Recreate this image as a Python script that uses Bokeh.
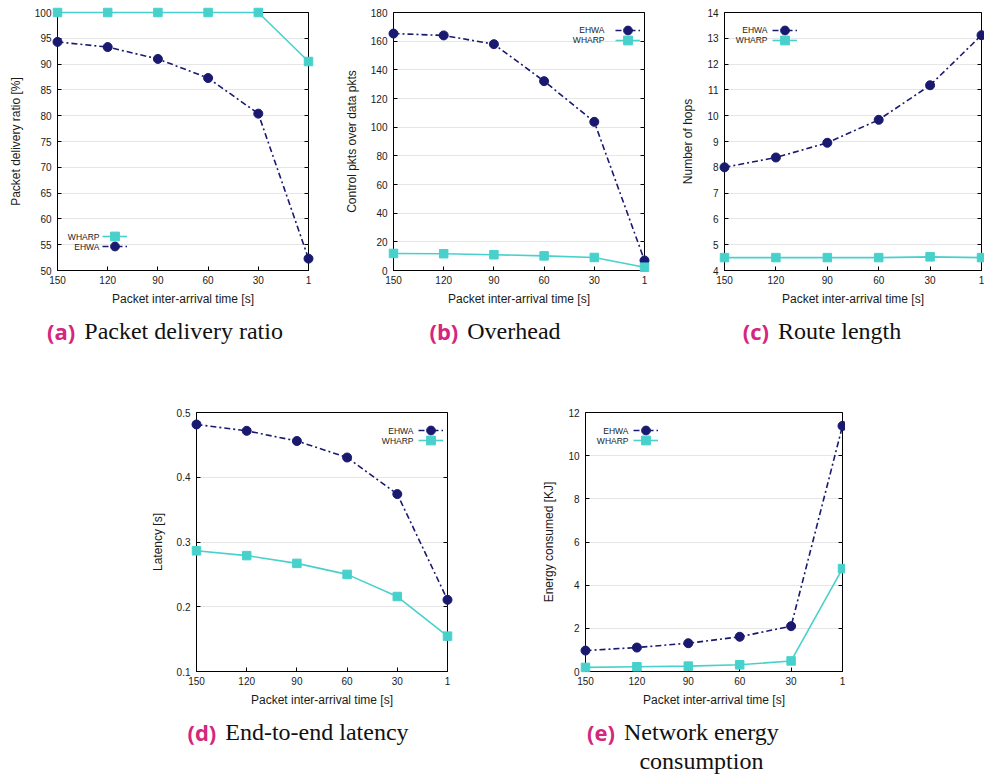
from bokeh.plotting import figure
from bokeh.models import Range1d, FixedTicker, LinearAxis, Legend, LegendItem, Label, Div, Spacer
from bokeh.layouts import row, column
from bokeh.embed import file_html
from bokeh.resources import INLINE

# Packet inter-arrival times [s] (x-axis categories, left to right)
intervals = [150, 120, 90, 60, 30, 1]

# (a) Packet delivery ratio [%]
pdr_ehwa = [94.3, 93.3, 91.0, 87.3, 80.4, 52.3]
pdr_wharp = [100.0, 100.0, 100.0, 100.0, 100.0, 90.5]

# (b) Control packets over data packets
ovh_ehwa = [165.3, 164.0, 157.9, 132.1, 103.7, 7.0]
ovh_wharp = [11.9, 11.7, 11.0, 10.2, 9.1, 2.3]

# (c) Route length [hops]
hops_ehwa = [8.0, 8.38, 8.95, 9.84, 11.18, 13.12]
hops_wharp = [4.5, 4.5, 4.5, 4.5, 4.53, 4.5]

# (d) End-to-end latency [s]
lat_ehwa = [0.4815, 0.4717, 0.456, 0.4305, 0.374, 0.2107]
lat_wharp = [0.2864, 0.279, 0.267, 0.250, 0.2158, 0.1546]

# (e) Network energy consumed [KJ]
energy_ehwa = [0.97, 1.11, 1.31, 1.61, 2.10, 11.38]
energy_wharp = [0.19, 0.22, 0.25, 0.31, 0.49, 4.77]

# y-axis ticks per panel
pdr_ticks = [50, 55, 60, 65, 70, 75, 80, 85, 90, 95, 100]
ovh_ticks = [0, 20, 40, 60, 80, 100, 120, 140, 160, 180]
hops_ticks = [4, 5, 6, 7, 8, 9, 10, 11, 12, 13, 14]
lat_ticks = [0.1, 0.2, 0.3, 0.4, 0.5]
energy_ticks = [0, 2, 4, 6, 8, 10, 12]

EHWA_COLOR = "#191970"
WHARP_COLOR = "#48d1cc"
PINK = "#d4267e"
SANS = "Liberation Sans"
TEXT = "#1a1a1a"

# legend sample box: markers in legends are drawn at 0.4 * min(width, height)
GLYPH_W = 25
GLYPH_H = 22
ROW_STEP = 10


def make_panel(y_ticks, y_label, ehwa, wharp, order, text_right, sample_x, first_row_y,
               border_left, frame_w, frame_h, border_right):
    xpos = list(range(len(intervals)))
    p = figure(frame_width=frame_w, frame_height=frame_h,
               min_border_left=border_left, min_border_right=border_right,
               min_border_top=12, min_border_bottom=40,
               x_range=Range1d(0, len(intervals) - 1),
               y_range=Range1d(y_ticks[0], y_ticks[-1]),
               output_backend="svg", toolbar_location=None)
    p.background_fill_color = "white"
    p.border_fill_color = "white"
    p.outline_line_color = "black"
    p.outline_line_width = 1

    # bottom axis: categorical inter-arrival labels
    xa = p.xaxis[0]
    xa.ticker = FixedTicker(ticks=xpos)
    xa.major_label_overrides = {i: str(v) for i, v in enumerate(intervals)}
    xa.axis_label = "Packet inter-arrival time [s]"

    ya = p.yaxis[0]
    ya.ticker = FixedTicker(ticks=y_ticks)
    ya.axis_label = y_label

    for ax in (xa, ya):
        ax.axis_line_color = "black"
        ax.major_tick_in = 4
        ax.major_tick_out = 0
        ax.minor_tick_line_color = None
        ax.major_tick_line_color = "black"
        ax.major_label_text_font = SANS
        ax.major_label_text_font_size = "10px"
        ax.major_label_text_color = TEXT
        ax.axis_label_text_font = SANS
        ax.axis_label_text_font_size = "12px"
        ax.axis_label_text_font_style = "normal"
        ax.axis_label_text_color = TEXT
    xa.major_label_standoff = 5
    xa.axis_label_standoff = 5
    ya.major_label_standoff = 6
    ya.axis_label_standoff = 9

    # mirrored tick marks on the right border
    ra = LinearAxis(ticker=FixedTicker(ticks=y_ticks),
                    major_label_overrides={t: "" for t in y_ticks},
                    axis_line_color=None, major_tick_in=4, major_tick_out=0,
                    major_label_standoff=0, minor_tick_line_color=None,
                    major_label_text_color=None, major_label_text_font_size="1px")
    p.add_layout(ra, "right")

    p.xgrid.visible = False
    p.ygrid.ticker = FixedTicker(ticks=y_ticks)
    p.ygrid.grid_line_color = "#e6e6e6"
    p.ygrid.grid_line_width = 1

    l_e = p.line(xpos, ehwa, line_color=EHWA_COLOR, line_width=1.6,
                 line_dash="6 3 2 3", level="annotation")
    s_e = p.scatter(xpos, ehwa, marker="circle", size=9, fill_color=EHWA_COLOR,
                    line_color=EHWA_COLOR, level="annotation")
    l_w = p.line(xpos, wharp, line_color=WHARP_COLOR, line_width=1.6, level="annotation")
    s_w = p.scatter(xpos, wharp, marker="square", size=8.5, fill_color=WHARP_COLOR,
                    line_color=WHARP_COLOR, level="annotation")

    # key: right-aligned name followed by a line/marker sample, one row per series
    series = {"EHWA": [l_e, s_e], "WHARP": [l_w, s_w]}
    for k, name in enumerate(order):
        row_y = first_row_y - ROW_STEP * k
        key = Legend(items=[LegendItem(label=" ", renderers=series[name])],
                     location=(sample_x, row_y - GLYPH_H / 2),
                     glyph_width=GLYPH_W, glyph_height=GLYPH_H, label_width=0,
                     label_height=GLYPH_H, label_standoff=0, padding=0,
                     spacing=0, margin=0, label_text_font_size="8px",
                     border_line_color=None, background_fill_alpha=0)
        p.add_layout(key)
        p.add_layout(Label(x=text_right, y=row_y, x_units="screen",
                           y_units="screen", text=name, text_align="right",
                           text_baseline="middle", text_font=SANS,
                           text_font_size="8.5px", text_color=TEXT))
    return p


def caption(tag, lines, width, height):
    body = "<br>".join(lines)
    html = (
        f'<div style="display:flex;justify-content:center;align-items:flex-start;'
        f'width:{width}px;padding-top:7px;">'
        f'<span style="font-family:\'Open Sans\',sans-serif;font-weight:700;font-size:22px;'
        f'color:{PINK};line-height:29px;margin-right:9px;">({tag})</span>'
        f'<span style="font-family:\'Liberation Serif\',serif;font-size:24px;color:#111;'
        f'line-height:29px;text-align:center;">{body}</span></div>'
    )
    return Div(text=html, width=width, height=height, margin=0)


pa = make_panel(pdr_ticks, "Packet delivery ratio [%]", pdr_ehwa, pdr_wharp,
                ["WHARP", "EHWA"], 42, 45, 34, 57, 251, 258, 22)
pb = make_panel(ovh_ticks, "Control pkts over data pkts", ovh_ehwa, ovh_wharp,
                ["EHWA", "WHARP"], 211, 222, 240.5, 63, 251, 258, 16)
pc = make_panel(hops_ticks, "Number of hops", hops_ehwa, hops_wharp,
                ["EHWA", "WHARP"], 43, 48, 240.5, 64, 257, 258, 3)
pd = make_panel(lat_ticks, "Latency [s]", lat_ehwa, lat_wharp,
                ["EHWA", "WHARP"], 217, 222, 241, 63, 251, 259, 16)
pe = make_panel(energy_ticks, "Energy consumed [KJ]", energy_ehwa, energy_wharp,
                ["EHWA", "WHARP"], 43, 48, 241, 64, 257, 259, 3)

top = row(pa, pb, pc)
caps1 = row(caption("a", ["Packet delivery ratio"], 330, 50),
            caption("b", ["Overhead"], 330, 50),
            caption("c", ["Route length"], 324, 50))
gap = Spacer(width=984, height=40, margin=0)
bottom = row(Spacer(width=133, height=311, margin=0), pd,
             Spacer(width=58, height=311, margin=0), pe)
caps2 = row(Spacer(width=133, height=67, margin=0),
            caption("d", ["End-to-end latency"], 330, 67),
            Spacer(width=58, height=67, margin=0),
            caption("e", ["Network energy", "consumption"], 324, 67))

layout = column(top, caps1, gap, bottom, caps2)

open("out.html", "w").write(file_html(layout, INLINE))
